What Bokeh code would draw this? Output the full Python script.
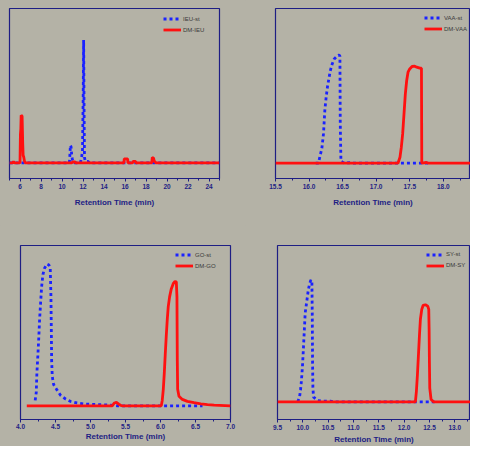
from bokeh.plotting import figure
from bokeh.layouts import column, row
from bokeh.models import Range1d, SingleIntervalTicker, PrintfTickFormatter, Legend, LegendItem
from bokeh.embed import file_html
from bokeh.resources import INLINE

# ---------------- data (retention time in min, detector response in arbitrary units) -------------
# Panel 1: IEU
ieu_st_x = [5.0, 10.7, 10.76, 10.8, 10.86, 10.92, 10.98, 11.06, 11.2, 11.75, 11.85, 11.95,
            12.02, 12.06, 12.1, 12.14, 12.2, 12.3, 12.5, 12.6, 25.0]
ieu_st_y = [0, 0, 10, 18.5, 17, 9, 4, 1.5, 0, 0, 5, 12, 70, 128.7, 60, 6, 2.5, 1.5, 1.5, 0, 0]
dm_ieu_x = [5.0, 5.3, 5.38, 5.48, 6.0, 6.04, 6.08, 6.11, 6.2, 6.26, 6.3, 6.36, 6.42, 6.5,
            10.95, 11.0, 11.25, 11.3, 15.9, 15.93, 16.25, 16.28, 16.72, 16.78, 17.0, 17.05,
            18.55, 18.6, 18.72, 18.78, 18.92, 19.0, 25.0]
dm_ieu_y = [0, 0, 1.5, 0, 0, 30, 36, 50, 49, 20, 8, 6, 2, 0,
            0, 1, 1, 0, 0, 4.3, 4.3, 0, 0, 1.7, 1.7, 0,
            0, 5.7, 5, 2, 0.5, 0, 0]

# Panel 2: VAA
vaa_st_x = [16.1, 16.14, 16.165, 16.19, 16.215, 16.235, 16.255, 16.275, 16.295, 16.315, 16.345,
            16.375, 16.415, 16.445, 16.46, 16.465, 16.475, 16.5, 16.53, 16.6, 16.65, 17.8]
vaa_st_y = [0, 0, 7.7, 14.3, 29.3, 52.7, 66, 76.7, 84.3, 92, 99.3,
            104.3, 107, 108.3, 107, 40, 2, 1, 0, 0.5, 0, 0]
dm_vaa_x = [15.5, 17.325, 17.355, 17.375, 17.395, 17.415, 17.435, 17.455, 17.475, 17.5, 17.535,
            17.575, 17.605, 17.65, 17.675, 17.68, 17.75, 17.78, 18.5]
dm_vaa_y = [0, 0, 6, 16, 29.3, 49.3, 69.3, 82.7, 91, 94.3, 96.7,
            97, 96, 95, 95, 0, 0.7, 0, 0]

# Panel 3: GO
go_st_x = [4.21, 4.225, 4.234, 4.249, 4.263, 4.273, 4.287, 4.301, 4.32, 4.344, 4.378, 4.406,
           4.425, 4.435, 4.44, 4.445, 4.454, 4.473, 4.52, 4.569, 4.64, 4.712, 4.807, 4.903,
           5.094, 5.285, 5.38, 6.6]
go_st_y = [5.7, 14, 34, 54, 74, 90.7, 107.3, 124, 137.3, 144, 148.3, 147.3,
           144, 114, 80.7, 47.3, 30.7, 22.3, 16.7, 11.3, 7.3, 4.7, 3, 2,
           1.3, 0.7, 0, 0]
dm_go_x = [4.09, 5.31, 5.342, 5.37, 5.404, 5.438, 5.47, 6.011, 6.025, 6.04, 6.054, 6.068, 6.083,
           6.097, 6.111, 6.13, 6.154, 6.183, 6.207, 6.226, 6.235, 6.24, 6.245, 6.264, 6.312,
           6.384, 6.479, 6.575, 6.671, 6.766, 7.0]
dm_go_y = [0, 0, 3, 3.7, 1.7, 0.3, 0, 0, 5.7, 17.3, 34, 54, 74,
           90.7, 104, 114, 122.3, 128, 130, 129.7, 114, 47.3, 17.3, 10, 6.7,
           4.7, 3.3, 2, 1.3, 0.7, 0]

# Panel 4: SY
sy_st_x = [9.9, 9.935, 9.955, 9.968, 9.981, 9.994, 10.008, 10.021, 10.034, 10.047, 10.067,
           10.087, 10.106, 10.133, 10.159, 10.179, 10.186, 10.192, 10.199, 10.212, 10.298,
           10.41, 10.542, 10.6, 12.6]
sy_st_y = [0, 4.7, 12.3, 19, 27.3, 37.3, 50.7, 64, 77.3, 90.7, 98,
           105.7, 113, 120, 124, 122.3, 90.7, 40.7, 14, 4.7, 1.3,
           0.7, 0.7, 0, 0]
dm_sy_x = [9.5, 12.222, 12.242, 12.262, 12.282, 12.302, 12.321, 12.348, 12.374, 12.42, 12.466,
           12.486, 12.493, 12.499, 12.506, 12.532, 12.585, 13.5]
dm_sy_y = [0, 0, 10.7, 27.3, 47.3, 67.3, 84, 94, 98, 98.7, 97.3,
           94, 74, 40.7, 14, 2.3, 0, 0]

x_title = "Retention Time (min)"

# ---------------- styling -------------
BG = "#b4b2a6"
NAVY = "#1e1e84"
BLUE = "#1a22ff"
RED = "#ff1010"
FONT = "Liberation Sans"


def make_panel(w, h, xr, yr, interval, fmt, borders, st, dm, labels, legend_loc,
               label_standoff, title_standoff):
    bl, br, bt, bb = borders
    p = figure(width=w, height=h, x_range=Range1d(*xr), y_range=Range1d(*yr),
               output_backend="svg", toolbar_location=None, y_axis_location=None,
               min_border_left=bl, min_border_right=br, min_border_top=bt, min_border_bottom=bb,
               styles={"background-color": BG})
    p.background_fill_color = BG
    p.border_fill_color = BG
    p.outline_line_color = NAVY
    p.outline_line_width = 1.2
    p.xgrid.visible = False
    p.ygrid.visible = False
    ax = p.xaxis[0]
    ax.ticker = SingleIntervalTicker(interval=interval, num_minor_ticks=2)
    if fmt:
        ax.formatter = PrintfTickFormatter(format=fmt)
    ax.axis_line_color = NAVY
    ax.axis_line_width = 1.2
    ax.major_tick_line_color = NAVY
    ax.minor_tick_line_color = NAVY
    ax.major_tick_in = 0
    ax.major_tick_out = 3
    ax.minor_tick_in = 0
    ax.minor_tick_out = 2
    ax.major_label_text_font = FONT
    ax.major_label_text_font_size = "6.5px"
    ax.major_label_text_font_style = "bold"
    ax.major_label_text_color = NAVY
    ax.major_label_standoff = label_standoff
    ax.axis_label = x_title
    ax.axis_label_text_font = FONT
    ax.axis_label_text_font_size = "8px"
    ax.axis_label_text_font_style = "bold"
    ax.axis_label_text_color = NAVY
    ax.axis_label_standoff = title_standoff

    rb = p.line(st[0], st[1], line_color=BLUE, line_width=2.8, line_dash="3 3")
    rr = p.line(dm[0], dm[1], line_color=RED, line_width=2.8)
    legend = Legend(items=[LegendItem(label=labels[0], renderers=[rb]),
                           LegendItem(label=labels[1], renderers=[rr])],
                    location=legend_loc, padding=0, margin=0, spacing=2,
                    glyph_width=18, glyph_height=9, label_height=9, label_width=10,
                    label_standoff=2, border_line_color=None, background_fill_alpha=0,
                    label_text_font=FONT, label_text_font_size="6px",
                    label_text_color="#3a3a3a")
    p.add_layout(legend)
    return p


p1 = make_panel(245, 225, (5, 25), (-16.3, 161.7), 2, None, (9, 26, 7, 40),
                (ieu_st_x, ieu_st_y), (dm_ieu_x, dm_ieu_y), ("IEU-st", "DM-IEU"), (154, 144), 2, 6)
p2 = make_panel(225, 225, (15.5, 18.406), (-15.3, 154.7), 0.5, "%.1f", (30, 0, 8, 47),
                (vaa_st_x, vaa_st_y), (dm_vaa_x, dm_vaa_y), ("VAA-st", "DM-VAA"), (149, 145), 2, 6)
p3 = make_panel(245, 221, (4.0, 7.0), (-14.3, 167.7), 0.5, "%.1f", (20, 15, 18, 21),
                (go_st_x, go_st_y), (dm_go_x, dm_go_y), ("GO-st", "DM-GO"), (155, 149), 1, 0)
p4 = make_panel(225, 221, (9.5, 13.31), (-18, 159), 0.5, "%.1f", (32, 0, 20, 24),
                (sy_st_x, sy_st_y), (dm_sy_x, dm_sy_y), ("SY-st", "DM-SY"), (149, 149.5), 2, 2)

layout = column(row(p1, p2, spacing=0, styles={"background-color": BG}),
                row(p3, p4, spacing=0, styles={"background-color": BG}),
                spacing=0, styles={"background-color": BG})

open("out.html", "w").write(file_html(layout, INLINE))
